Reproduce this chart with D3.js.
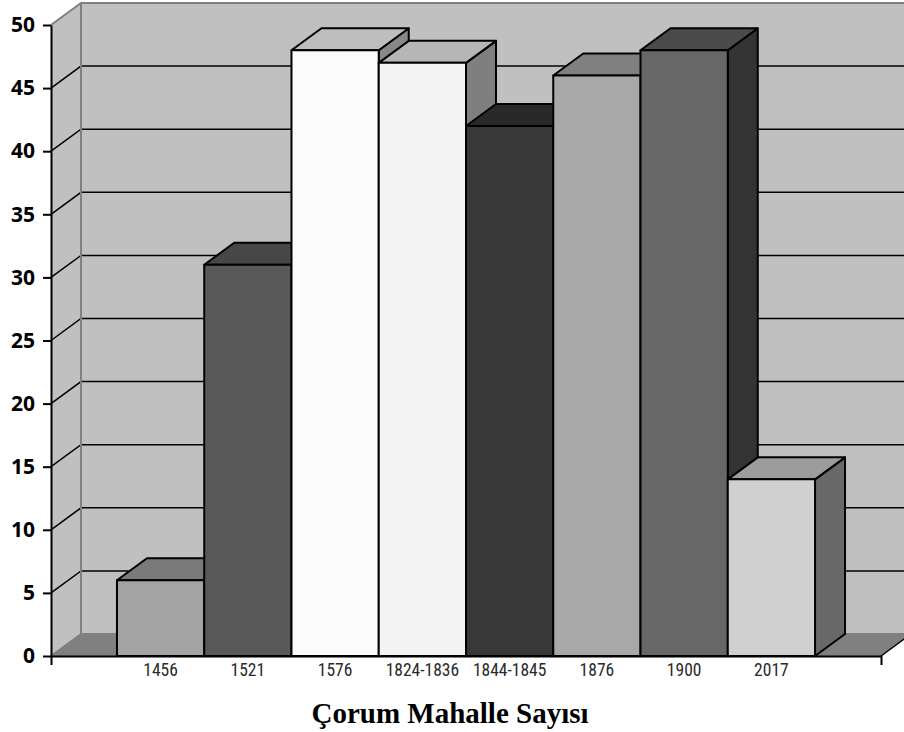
<!DOCTYPE html>
<html>
<head>
<meta charset="utf-8">
<script src="https://cdn.jsdelivr.net/npm/d3@7"></script>
<style>
  body { margin: 0; background: #fff; }
  .ylab text { font-family: "Noto Sans", "Open Sans", sans-serif; font-weight: bold; font-size: 21px; fill: #000; }
  .xlab text { font-family: "Liberation Sans Narrow", "Roboto Condensed", Roboto, sans-serif; font-size: 17.5px; fill: #2a2a2a; }
  .title { font-family: "Liberation Serif", "Times New Roman", serif; font-weight: bold; font-size: 29px; }
</style>
</head>
<body>
<svg id="chart" width="904" height="732"></svg>
<script>
const categories = ["1456", "1521", "1576", "1824-1836", "1844-1845", "1876", "1900", "2017"];
const values = [6, 31, 48, 47, 42, 46, 48, 14];
const yTicks = [0, 5, 10, 15, 20, 25, 30, 35, 40, 45, 50];

const frontColors = ["#a3a3a3", "#595959", "#fbfbfb", "#f3f3f3", "#383838", "#a8a8a8", "#676767", "#d0d0d0"];
const topColors   = ["#7a7a7a", "#474747", "#bebebe", "#b6b6b6", "#292929", "#808080", "#4a4a4a", "#9c9c9c"];
const sideColors  = ["#5a5a5a", "#333333", "#888888", "#7f7f7f", "#1c1c1c", "#5a5a5a", "#333333", "#686868"];

const svg = d3.select("#chart");
const plotLeft = 51, plotRight = 881, plotBottom = 656, plotTop = 25;
const dx = 30, dy = -22;   // depth offset of the back wall

const x = d3.scaleBand().domain(categories).range([plotLeft, plotRight])
            .paddingInner(0).paddingOuter(0.756);
const y = d3.scaleLinear().domain([0, 50]).range([plotBottom, plotTop]);

const pts = a => a.map(p => p.join(",")).join(" ");

// walls and floor
svg.append("polygon")
   .attr("points", pts([[plotLeft, y(50)], [plotLeft + dx, y(50) + dy], [plotLeft + dx, plotBottom + dy], [plotLeft, plotBottom]]))
   .attr("fill", "#c0c0c0");
svg.append("rect")
   .attr("x", plotLeft + dx).attr("y", y(50) + dy)
   .attr("width", plotRight - plotLeft + 10).attr("height", plotBottom - y(50))
   .attr("fill", "#c0c0c0");
svg.append("polygon")
   .attr("points", pts([[plotLeft, plotBottom], [plotLeft + dx, plotBottom + dy], [plotRight + dx, plotBottom + dy], [plotRight, plotBottom]]))
   .attr("fill", "#808080");

// gridlines on side and back wall
const grid = svg.append("g").attr("stroke", "#000").attr("stroke-width", 1.5).attr("fill", "none");
yTicks.filter(t => t > 0 && t < 50).forEach(t => {
  grid.append("path")
      .attr("d", `M${plotLeft},${y(t)}L${plotLeft + dx},${y(t) + dy}H${plotRight + dx + 10}`);
});

// wall edges
svg.append("path")
   .attr("d", `M${plotLeft},${y(50)}L${plotLeft + dx},${y(50) + dy}H${plotRight + dx + 10}` +
              `M${plotLeft + dx},${y(50) + dy}V${plotBottom + dy}H${plotRight + dx + 10}` +
              `M${plotLeft},${plotBottom}L${plotLeft + dx},${plotBottom + dy}`)
   .attr("stroke", "#808080").attr("stroke-width", 2).attr("fill", "none");
svg.append("path")
   .attr("d", `M${plotRight},${plotBottom}L${plotRight + dx},${plotBottom + dy}`)
   .attr("stroke", "#000").attr("stroke-width", 1.5);

// bars, drawn left to right so later bars cover earlier ones
const bars = svg.append("g").attr("stroke", "#000").attr("stroke-width", 2).attr("stroke-linejoin", "round");
categories.forEach((c, i) => {
  const x0 = x(c), x1 = x(c) + x.bandwidth(), yv = y(values[i]);
  const g = bars.append("g");
  g.append("polygon")
   .attr("points", pts([[x1, yv], [x1 + dx, yv + dy], [x1 + dx, plotBottom + dy], [x1, plotBottom]]))
   .attr("fill", sideColors[i]);
  g.append("polygon")
   .attr("points", pts([[x0, yv], [x0 + dx, yv + dy], [x1 + dx, yv + dy], [x1, yv]]))
   .attr("fill", topColors[i]);
  g.append("rect")
   .attr("x", x0).attr("y", yv)
   .attr("width", x1 - x0).attr("height", plotBottom - yv)
   .attr("fill", frontColors[i]);
});

// axes
const yAxis = svg.append("g").attr("class", "ylab")
   .attr("transform", `translate(${plotLeft},0)`)
   .call(d3.axisLeft(y).tickValues(yTicks).tickSizeInner(8).tickSizeOuter(0).tickPadding(8));
yAxis.selectAll("line, path").attr("stroke", "#000").attr("stroke-width", 2);

const xAxis = svg.append("g").attr("class", "xlab")
   .attr("transform", `translate(0,${plotBottom})`)
   .call(d3.axisBottom(x).tickSizeInner(0).tickSizeOuter(9).tickPadding(8));
xAxis.select(".domain").attr("stroke", "#000").attr("stroke-width", 2);

// title
svg.append("text").attr("class", "title")
   .attr("x", 450).attr("y", 723)
   .attr("text-anchor", "middle")
   .text("Çorum Mahalle Sayısı");
</script>
</body>
</html>
